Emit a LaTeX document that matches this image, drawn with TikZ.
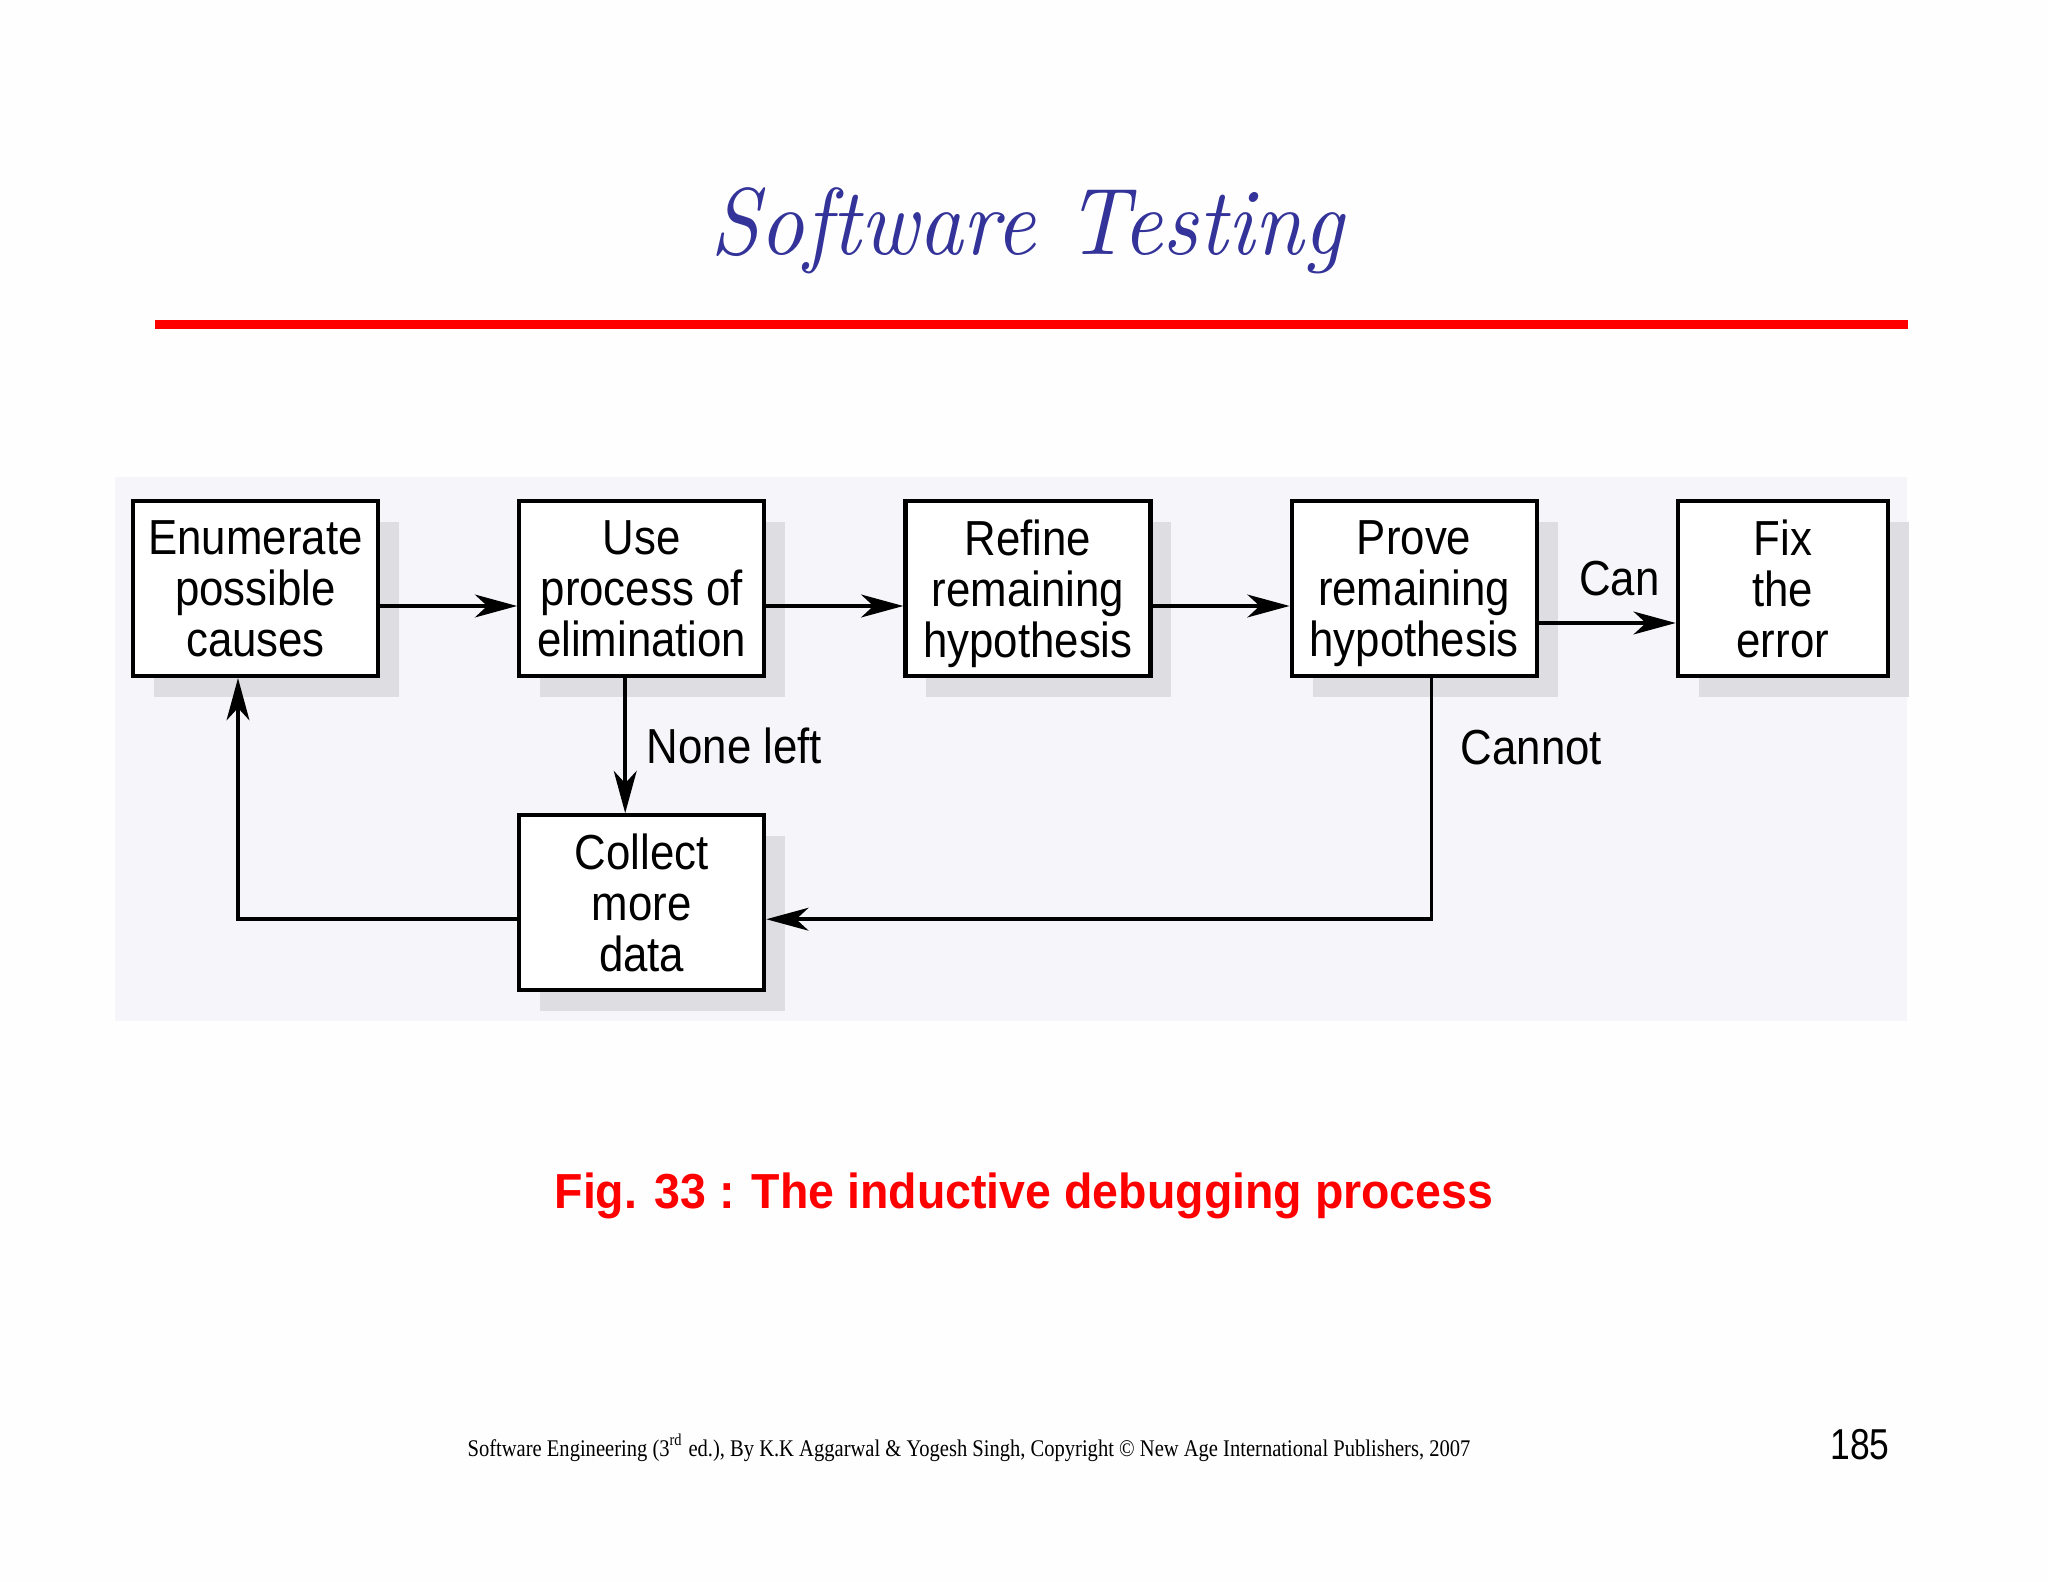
\documentclass[tikz,border=0pt]{standalone}
\usepackage{fontspec}
\setmainfont{Liberation Sans}[FakeStretch=0.89]
\newfontfamily\titlefont{lmroman10-italic.otf}[FakeStretch=0.92]
\newfontfamily\footfont{Liberation Serif}[FakeStretch=0.86]
\newfontfamily\capfont{Liberation Sans}[FakeStretch=0.945]
\newfontfamily\numfont{Liberation Sans}[FakeStretch=0.82]
\usepackage{tikz}
\usetikzlibrary{arrows.meta, positioning, shadows}
\definecolor{titleblue}{RGB}{51,51,153}
\definecolor{shadowgray}{RGB}{222,222,226}
\definecolor{panelgray}{RGB}{246,246,250}
\definecolor{pagewhite}{RGB}{254,254,255}

\begin{document}
\begin{tikzpicture}[
    node distance=1.37cm,
    stepbox/.style={rectangle, draw=black, line width=1.2pt, fill=white, minimum width=2.45cm, minimum height=1.75cm, inner sep=0pt, align=center, font=\fontsize{14}{14.5}\selectfont, text depth=0pt, drop shadow={shadow xshift=0.21cm, shadow yshift=-0.21cm, fill=shadowgray, opacity=1}},
    edgelabel/.style={font=\fontsize{14}{14.5}\selectfont},
    arrow/.style={line width=1pt, -{Stealth[length=12pt, width=6.5pt, inset=3.5pt]}}
]

\useasboundingbox[fill=pagewhite] (0,0) rectangle (20.48,-15.82);
\fill[panelgray] (1.15,-4.77) rectangle (19.07,-10.21);

\node (title) [anchor=base, text=titleblue, font=\titlefont\fontsize{27}{30}\selectfont] at (10.27,-2.55) {Software Testing};
\draw[red, line width=0.09cm] (1.55,-3.245) -- (19.08,-3.245);

\node (enum) [stepbox] at (2.555,-5.885) {Enumerate\\possible\\causes};
\node (elim) [stepbox, right=of enum] {Use\\process of\\elimination};
\node (refine) [stepbox, right=of elim] {Refine\\remaining\\hypothesis};
\node (prove) [stepbox, right=of refine] {Prove\\remaining\\hypothesis};
\node (fix) [stepbox, minimum width=2.1cm, right=of prove] {Fix\\the\\error};
\node (collect) [stepbox, below=1.35cm of elim] {Collect\\more\\data};

\draw [arrow] ([yshift=-0.175cm]enum.east) -- ([yshift=-0.175cm]elim.west);
\draw [arrow] ([yshift=-0.175cm]elim.east) -- ([yshift=-0.175cm]refine.west);
\draw [arrow] ([yshift=-0.175cm]refine.east) -- ([yshift=-0.175cm]prove.west);
\draw [arrow] ([yshift=-0.345cm]prove.east) -- node[edgelabel, above=0.14cm, xshift=0.12cm] {Can} ([yshift=-0.345cm]fix.west);
\draw [arrow] ([xshift=-0.165cm]elim.south) -- node[edgelabel, right=0.08cm] {None left} ([xshift=-0.165cm]collect.north);
\draw [arrow] ([xshift=0.175cm]prove.south) |- node[edgelabel, anchor=west, pos=0.145, xshift=0.156cm] {Cannot} ([yshift=-0.165cm]collect.east);
\draw [arrow] ([yshift=-0.165cm]collect.west) -| ([xshift=-0.175cm]enum.south);

\node (caption) [anchor=base, text=red, font=\capfont\bfseries\fontsize{14}{16}\selectfont] at (10.24,-12.08) {Fig. 33 : The inductive debugging process};
\node (footer) [anchor=base, font=\footfont\fontsize{6.8}{8}\selectfont] at (9.69,-14.56) {Software Engineering (3\textsuperscript{rd} ed.), By K.K Aggarwal \& Yogesh Singh, Copyright \textcopyright{} New Age International Publishers, 2007};
\node (pagenum) [anchor=base, font=\numfont\fontsize{12.3}{14}\selectfont] at (18.60,-14.59) {185};

\end{tikzpicture}
\end{document}
